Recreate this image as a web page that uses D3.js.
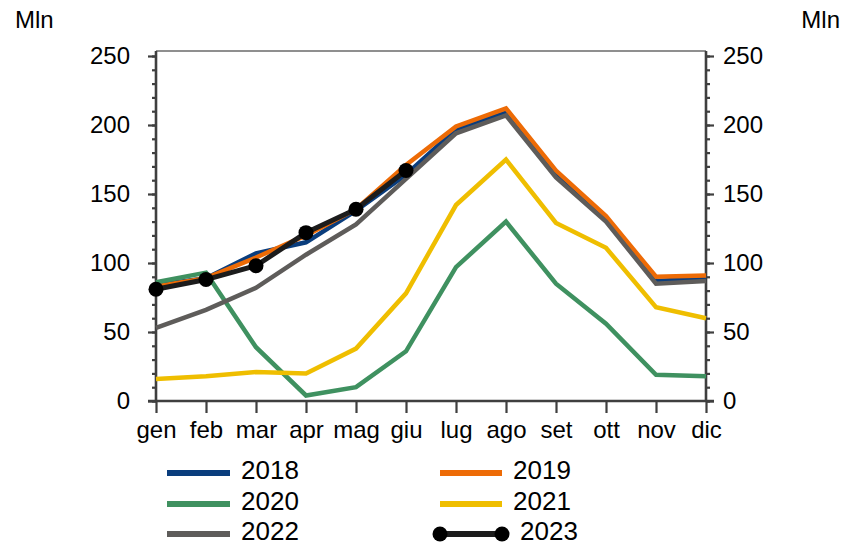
<!DOCTYPE html>
<html>
<head>
<meta charset="utf-8">
<script src="https://cdn.jsdelivr.net/npm/d3@7/dist/d3.min.js"></script>
<style>
  html, body { margin: 0; padding: 0; background: #fff; }
  svg { display: block; font-family: "Liberation Sans", Arial, sans-serif; }
</style>
</head>
<body>
<svg id="chart" width="843" height="545"></svg>
<script>
// Months (Italian abbreviations)
const months = ["gen", "feb", "mar", "apr", "mag", "giu", "lug", "ago", "set", "ott", "nov", "dic"];

// Monthly values, millions
const s2018 = [84, 89, 107, 115, 138, 164, 197, 209, 165, 132, 87, 89];
const s2019 = [83, 89, 104, 120, 139, 171, 199, 212, 167, 134, 90, 91];
const s2020 = [86, 93, 39, 4, 10, 36, 97, 130, 85, 56, 19, 18];
const s2021 = [16, 18, 21, 20, 38, 78, 142, 175, 129, 111, 68, 60];
const s2022 = [53, 66, 82, 106, 128, 161, 194, 207, 162, 130, 85, 87];
const s2023 = [81, 88, 98, 122, 139, 167];

const yearLabels = ["2018", "2019", "2020", "2021", "2022", "2023"];
const yTickValues = [0, 50, 100, 150, 200, 250];
const yMinorValues = d3.range(0, 251, 10);
const unitLabel = "Mln";

const colors = ["#0a3d7d", "#ed6b06", "#3f9160", "#efbe00", "#5e5c5a", "#1c1c1c"];
const seriesValues = [s2018, s2019, s2020, s2021, s2022, s2023];
const series = yearLabels.map((name, i) => ({
  name, color: colors[i], values: seriesValues[i], markers: name === "2023"
}));

const svg = d3.select("#chart");
const plotLeft = 156, plotRight = 706, plotTop = 51, plotBottom = 401;

const x = d3.scalePoint().domain(months).range([plotLeft, plotRight]).padding(0);
const y = d3.scaleLinear().domain([0, 250]).range([plotBottom, 56]);

const axisColor = "#3f3f3f";

// top frame line
svg.append("line")
  .attr("x1", plotLeft).attr("x2", plotRight)
  .attr("y1", plotTop).attr("y2", plotTop)
  .attr("stroke", "#6a6a6a").attr("stroke-width", 1.5);

function styleAxis(g, fontSize) {
  g.select(".domain").remove();
  g.selectAll(".tick line").attr("stroke", axisColor).attr("stroke-width", 2.2);
  g.selectAll(".tick text").attr("fill", "#000").attr("font-size", fontSize)
    .attr("font-family", "Liberation Sans, Arial, sans-serif");
}

// left axis: minor and major ticks
svg.append("g").attr("transform", `translate(${plotLeft},0)`)
  .call(d3.axisLeft(y).tickValues(yMinorValues).tickSize(4).tickFormat(""))
  .call(g => styleAxis(g, 24));
svg.append("g").attr("transform", `translate(${plotLeft},0)`)
  .call(d3.axisLeft(y).tickValues(yTickValues).tickSize(8).tickPadding(18))
  .call(g => styleAxis(g, 24));

// right axis
svg.append("g").attr("transform", `translate(${plotRight},0)`)
  .call(d3.axisRight(y).tickValues(yMinorValues).tickSize(4).tickFormat(""))
  .call(g => styleAxis(g, 24));
svg.append("g").attr("transform", `translate(${plotRight},0)`)
  .call(d3.axisRight(y).tickValues(yTickValues).tickSize(8).tickPadding(9))
  .call(g => styleAxis(g, 24));

// bottom axis
svg.append("g").attr("transform", `translate(0,${plotBottom})`)
  .call(d3.axisBottom(x).tickSize(12).tickPadding(8))
  .call(g => styleAxis(g, 24));

// axis lines
svg.append("line").attr("x1", plotLeft).attr("x2", plotLeft)
  .attr("y1", plotTop).attr("y2", plotBottom)
  .attr("stroke", axisColor).attr("stroke-width", 2.6);
svg.append("line").attr("x1", plotRight).attr("x2", plotRight)
  .attr("y1", plotTop).attr("y2", plotBottom)
  .attr("stroke", axisColor).attr("stroke-width", 2.6);
svg.append("line").attr("x1", plotLeft - 8).attr("x2", plotRight + 8)
  .attr("y1", plotBottom).attr("y2", plotBottom)
  .attr("stroke", axisColor).attr("stroke-width", 2.6);

// unit labels
svg.append("text").attr("x", 15).attr("y", 28).attr("font-size", 24).text(unitLabel);
svg.append("text").attr("x", 840).attr("y", 28).attr("font-size", 24)
  .attr("text-anchor", "end").text(unitLabel);

// lines
const line = d3.line().x((d, i) => x(months[i])).y(d => y(d));
const gLines = svg.append("g");
series.forEach(s => {
  gLines.append("path")
    .datum(s.values)
    .attr("d", line)
    .attr("fill", "none")
    .attr("stroke", s.color)
    .attr("stroke-width", s.markers ? 5 : 4.5)
    .attr("stroke-linejoin", "miter");
  if (s.markers) {
    gLines.selectAll(null).data(s.values).enter().append("circle")
      .attr("cx", (d, i) => x(months[i]))
      .attr("cy", d => y(d))
      .attr("r", 7.5)
      .attr("fill", "#000");
  }
});

// legend
const legendCols = [
  { lineX: 167, lineW: 63, textX: 241 },
  { lineX: 440, lineW: 62, textX: 513 }
];
const legendRows = [473, 504, 534];
const legend = svg.append("g");
series.forEach((s, i) => {
  const col = legendCols[i % 2];
  const ry = legendRows[Math.floor(i / 2)];
  legend.append("line")
    .attr("x1", col.lineX).attr("x2", col.lineX + col.lineW)
    .attr("y1", ry).attr("y2", ry)
    .attr("stroke", s.color).attr("stroke-width", 6);
  let tx = col.textX;
  if (s.markers) {
    [col.lineX, col.lineX + col.lineW].forEach(cx => {
      legend.append("circle").attr("cx", cx).attr("cy", ry).attr("r", 7.5).attr("fill", "#000");
    });
    tx = col.textX + 7;
  }
  legend.append("text")
    .attr("x", tx).attr("y", ry + 5.5)
    .attr("font-size", 26)
    .attr("fill", "#000")
    .text(s.name);
});
</script>
</body>
</html>
